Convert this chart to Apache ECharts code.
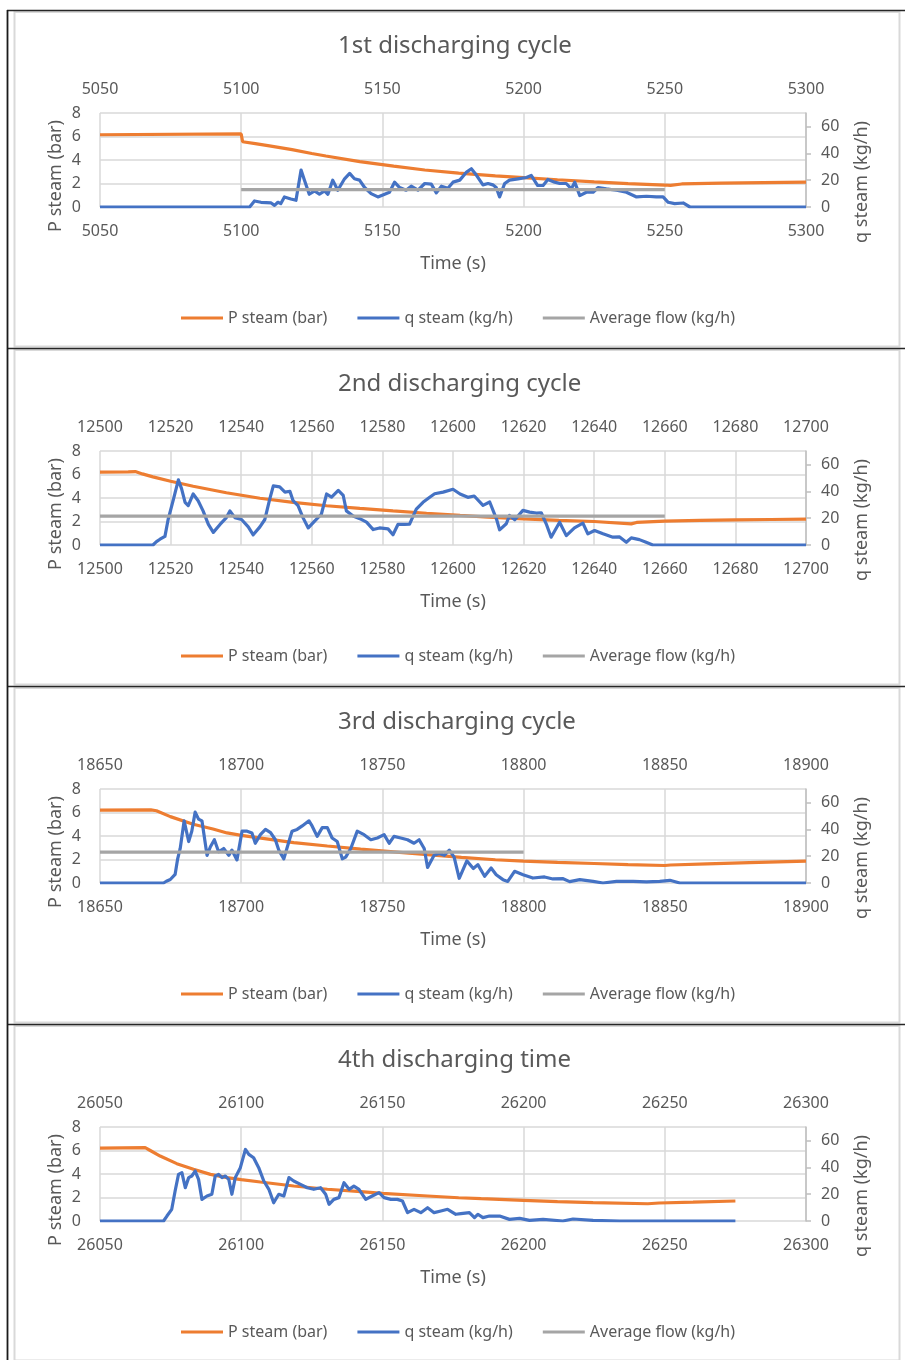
<!DOCTYPE html>
<html>
<head>
<meta charset="utf-8">
<script src="https://cdn.jsdelivr.net/npm/echarts@6/dist/echarts.min.js"></script>
<style>
html,body{margin:0;padding:0;background:#fff;}
#c{width:905px;height:1360px;}
</style>
</head>
<body>
<div id="c"></div>
<script>
// ---------- DATA ----------
const titles = ['1st discharging cycle', '2nd discharging cycle', '3rd discharging cycle', '4th discharging time'];
const xMins = [5050, 12500, 18650, 26050];
const xMaxs = [5300, 12700, 18900, 26300];
const xSteps = [50, 20, 50, 50];
const pTicks = [0, 2, 4, 6, 8];
const qTicks = [0, 20, 40, 60];
const legendNames = ['P steam (bar)', 'q steam (kg/h)', 'Average flow (kg/h)'];

// [time (s), P steam (bar)]
const p1 = [[5050,6.15],[5100,6.22],[5100.5,5.55],[5105,5.4],[5110,5.2],[5118,4.88],[5125,4.55],[5130,4.34],[5142,3.86],[5154,3.48],[5165,3.15],[5177,2.88],[5190,2.65],[5200,2.5],[5212,2.32],[5225,2.14],[5237,1.99],[5250,1.87],[5252,1.84],[5256,1.96],[5270,2.03],[5285,2.08],[5300,2.12]];
// [time (s), q steam (kg/h)]
const q1 = [[5050,0],[5103,0],[5104.7,4.5],[5107,3.5],[5110.6,3],[5111.8,1.2],[5113,3.5],[5114,2.5],[5115.3,7.5],[5117.6,6],[5119.4,5],[5121.2,27.5],[5122.4,20],[5124.1,9.5],[5126,12],[5127.7,9.5],[5129.5,12],[5130.7,9.5],[5132.4,20],[5134.2,12.5],[5136.6,21],[5138.4,25],[5140.1,21],[5141.9,20],[5143.7,14.5],[5146,10],[5148.4,7.5],[5150.8,9.5],[5152.5,11],[5154.3,18.5],[5156.1,14.5],[5158.4,12.5],[5160.2,15.5],[5162.6,12.5],[5165,17.5],[5167.3,17],[5169.1,10.5],[5170.9,15.5],[5173.2,14],[5175,18.5],[5177.4,20],[5179.8,26],[5181.5,28.5],[5183.2,24],[5185.6,16.5],[5187.4,17.5],[5189.1,16.5],[5190.3,14.5],[5191.5,7.5],[5193.3,17.5],[5195,20],[5198,21],[5201,22],[5202.7,23.5],[5205,16],[5206.9,16],[5208.6,20.5],[5211,18.5],[5212.8,17.5],[5215.1,17.5],[5216.9,13.5],[5218.1,18.5],[5219.9,8.5],[5222.2,11],[5224.6,11],[5226.4,14.5],[5229.3,13.5],[5232.9,12.5],[5236.4,11],[5240,7.5],[5243.5,8],[5247,7.5],[5249.4,7.5],[5251.2,3.5],[5253.5,2.5],[5256.5,3],[5258.9,0],[5300,0]];
const avg1 = [[5100,13],[5250,13]];

const p2 = [[12500,6.2],[12508,6.22],[12510,6.25],[12512,6.05],[12515,5.8],[12520,5.43],[12526.4,5.0],[12535.8,4.45],[12545.3,3.98],[12554.7,3.63],[12564.2,3.34],[12573.6,3.11],[12583,2.9],[12592.5,2.7],[12602,2.52],[12610,2.38],[12620,2.23],[12630,2.1],[12640,2.0],[12650.5,1.8],[12652,1.92],[12660,2.03],[12670,2.09],[12680,2.14],[12690,2.17],[12700,2.2]];
const q2 = [[12500,0],[12515,0],[12516,2.5],[12517,4.3],[12518.4,6.4],[12519.3,19],[12520.8,34],[12522.2,48.5],[12523.1,42],[12524.1,31.8],[12525,29.3],[12526.4,38],[12527.8,33],[12529.2,25.4],[12530.7,15.3],[12532.1,9.4],[12534,15.3],[12535.8,20.4],[12536.8,25.4],[12538.2,20.4],[12540.1,19],[12542,13.5],[12543.4,7.6],[12545.3,13.5],[12546.7,19],[12548.1,34.4],[12549.1,44],[12550.9,43.3],[12552.4,39.4],[12553.8,40],[12554.7,33],[12556.1,29.3],[12557.5,20.4],[12559,12.7],[12560.8,17.8],[12562.7,22.9],[12564.2,38],[12565.6,35.6],[12567.5,40.7],[12568.9,36.9],[12569.8,25.4],[12571.7,21.6],[12573.6,19.6],[12575.5,17],[12577.4,11.5],[12579.2,12.7],[12581.6,12],[12583,7.6],[12584.4,15.3],[12586.3,15.3],[12587.7,15.5],[12589.6,26.7],[12591.5,31.8],[12593.4,35.6],[12594.8,38.2],[12597.2,39.4],[12600,41.5],[12602,38],[12604.2,35.5],[12606,36.5],[12608.5,29.5],[12610.4,32],[12612.3,19.5],[12613.2,11.3],[12615.1,15.8],[12616,22],[12617.5,18.8],[12619.8,25.8],[12621.7,24.5],[12623.6,23.8],[12625,24],[12626.4,15.8],[12627.8,5.8],[12630.2,17],[12632.1,7],[12634.4,12.8],[12636.8,16.3],[12638.2,8.3],[12640.1,10.8],[12642.5,8.3],[12645.3,5.8],[12647.2,6],[12649.1,2],[12650.5,5.3],[12652.8,4],[12654.7,2],[12656.6,0],[12700,0]];
const avg2 = [[12500,21.5],[12660,21.5]];

const p3 = [[18650,6.2],[18668,6.22],[18670,6.15],[18674.9,5.65],[18683,5.0],[18690,4.6],[18695,4.26],[18700,4.05],[18707,3.82],[18718.6,3.44],[18730.5,3.15],[18742.3,2.88],[18754,2.65],[18766,2.41],[18778,2.18],[18790,1.98],[18800,1.86],[18812,1.76],[18825,1.66],[18837,1.56],[18850,1.49],[18852,1.53],[18865,1.63],[18880,1.74],[18900,1.86]];
const q3 = [[18650,0],[18672.5,0],[18673.5,1.3],[18674.9,2.6],[18676.6,6.4],[18677.5,18],[18678.4,25.7],[18679.8,46.3],[18681.4,30.9],[18682.5,38.6],[18683.7,52.8],[18684.9,47.6],[18686.1,46.3],[18687.9,20.6],[18689.1,27],[18690.5,32.2],[18692,23.2],[18693.8,25.7],[18695.6,20.6],[18696.7,24.5],[18698.5,17.2],[18700.3,38.6],[18702.1,38.6],[18703.8,37.3],[18705,29.6],[18706.8,36],[18708.6,39.9],[18710.4,37.5],[18712.1,32.2],[18713.3,24.5],[18715.1,18],[18716.9,30.9],[18718,38.6],[18719.8,39.9],[18721.6,42.5],[18724,46.3],[18725.1,42.5],[18726.9,34.7],[18728.7,41.2],[18730.5,41.2],[18732.2,33.5],[18734,30.9],[18735.8,18],[18737,19.3],[18738.8,25.7],[18741.1,38.6],[18743.5,36],[18745.9,32.2],[18748.2,33.5],[18750.6,36],[18752.4,29.6],[18754.1,34.7],[18756.5,33.5],[18758.9,32.2],[18761.2,29.6],[18763,32.2],[18764.8,25.7],[18766,11.6],[18768.3,20.6],[18770.1,21.9],[18771.9,20.6],[18773.7,24.5],[18775.4,19.3],[18777.2,3.5],[18779.9,16.5],[18782.2,10.8],[18783.8,13.7],[18786.2,5],[18788.5,11.2],[18790.3,6.2],[18792.7,2.5],[18794.4,1.2],[18796.8,8.7],[18799.8,6.2],[18803.3,3.7],[18807.4,4.5],[18810.4,3],[18814,3.2],[18816.3,1],[18819.9,2.5],[18824.6,1.2],[18828.1,0],[18832.9,1.2],[18838.8,1.2],[18843.5,0.8],[18848.2,1.2],[18851.8,2],[18855.3,0],[18900,0]];
const avg3 = [[18650,23],[18800,23]];

const p4 = [[26050,6.2],[26066,6.24],[26067.8,6.0],[26071.3,5.53],[26077.2,4.88],[26083.1,4.4],[26089.1,3.97],[26095,3.69],[26100,3.52],[26106.8,3.32],[26118.6,2.98],[26130.5,2.7],[26142.3,2.5],[26150,2.35],[26166,2.13],[26177,1.98],[26185,1.9],[26200,1.76],[26212,1.65],[26224.6,1.56],[26244,1.47],[26248,1.53],[26260,1.6],[26275,1.7]];
const q4 = [[26050,0],[26072.5,0],[26073.7,3.7],[26075.4,8.7],[26076.6,22.3],[26077.8,34.7],[26079,36],[26080.2,24.8],[26081.4,32.3],[26082.5,33.5],[26083.7,37.2],[26084.9,31],[26086.1,16.1],[26087.9,18.6],[26089.6,19.9],[26090.8,33.5],[26092,34.7],[26093.2,32.3],[26094.4,33.5],[26095.6,31],[26096.7,19.9],[26097.9,32.3],[26099.7,39.7],[26101.5,53.3],[26102.7,49.6],[26104.4,47.1],[26106.2,39.7],[26108,29.8],[26109.8,23.6],[26111.5,13.6],[26113.3,19.9],[26115.1,18.6],[26116.9,32.3],[26118.6,29.8],[26121,27.3],[26123.4,24.8],[26125.7,23.6],[26128.1,24.8],[26129.9,19.9],[26131.1,12.4],[26132.8,16.1],[26134.6,17.4],[26136.4,28.5],[26138.2,23.6],[26139.9,26],[26141.7,23.6],[26144.1,16.1],[26146.4,18.6],[26148.8,21.1],[26150.6,17.4],[26153,16.1],[26155.3,16.1],[26157.1,14.9],[26158.9,6.2],[26161.2,8.7],[26163.6,6.2],[26166,9.9],[26168.3,6.2],[26170.7,7.4],[26173.1,8.7],[26176,5],[26177.8,5.5],[26180.8,6.2],[26182.6,2.5],[26183.8,5],[26185.6,2.5],[26187.9,3.7],[26191.5,3.7],[26195,1.2],[26198.6,2],[26202.1,0.5],[26206.9,1.2],[26213.9,0],[26217.5,1.5],[26224.6,0.5],[26234,0],[26275,0]];
const avg4 = [];

const pSeries = [p1, p2, p3, p4];
const qSeries = [q1, q2, q3, q4];
const avgSeries = [avg1, avg2, avg3, avg4];

// ---------- LAYOUT / STYLE ----------
const FONT = 'Noto Sans';
const TXT = '#595959';
const GRID = '#d9d9d9';
const COLORS = ['#ED7D31', '#4472C4', '#A5A5A5'];
const PANEL_H = 338;
const plain = v => String(v);

const option = {
  animation: false,
  textStyle: { fontFamily: FONT },
  title: [], legend: [], grid: [], xAxis: [], yAxis: [], series: [], graphic: []
};

for (let k = 0; k < 4; k++) {
  const o = PANEL_H * k;
  option.title.push({
    text: titles[k], left: 338, top: 34 + o, padding: 0,
    textStyle: { fontFamily: FONT, fontSize: 24, fontWeight: 'normal', color: TXT }
  });
  option.legend.push({
    data: legendNames.map(n => n + '\u200B'.repeat(k)),
    left: 181, top: 310 + o, padding: 0, itemGap: 30,
    icon: 'rect', itemWidth: 42, itemHeight: 3,
    formatter: n => n.replace(/\u200B/g, ''),
    textStyle: { fontFamily: FONT, fontSize: 16, color: TXT },
    selectedMode: false
  });
  option.grid.push({ left: 100, right: 99, top: 113 + o, height: 94, containLabel: false });
  const axisBase = {
    type: 'value', gridIndex: k, min: xMins[k], max: xMaxs[k], interval: xSteps[k]
  };
  option.xAxis.push(Object.assign({}, axisBase, {
    position: 'bottom',
    name: 'Time (s)', nameLocation: 'middle', nameGap: 48, nameMoveOverlap: false,
    nameTextStyle: { fontFamily: FONT, fontSize: 18, color: TXT },
    axisLine: { show: false }, axisTick: { show: false },
    axisLabel: { fontFamily: FONT, fontSize: 16, color: TXT, margin: 16, formatter: plain },
    splitLine: { show: true, lineStyle: { color: GRID, width: 1.5 } }
  }));
  option.xAxis.push(Object.assign({}, axisBase, {
    position: 'top',
    axisLine: { show: false }, axisTick: { show: false },
    axisLabel: { fontFamily: FONT, fontSize: 16, color: TXT, margin: 16, formatter: plain },
    splitLine: { show: false }
  }));
  option.yAxis.push({
    type: 'value', gridIndex: k, position: 'left', min: 0, max: 8, interval: 2,
    name: 'P steam (bar)', nameLocation: 'middle', nameGap: 35, nameRotate: 90, nameMoveOverlap: false,
    nameTextStyle: { fontFamily: FONT, fontSize: 18, color: TXT, padding: [0, 32, 0, 0] },
    axisLine: { show: false }, axisTick: { show: false },
    axisLabel: { fontFamily: FONT, fontSize: 16, color: TXT, margin: 19 },
    splitLine: { show: true, lineStyle: { color: GRID, width: 1.5 } }
  });
  option.yAxis.push({
    type: 'value', gridIndex: k, position: 'right', min: 0, max: 70,
    name: 'q steam (kg/h)', nameLocation: 'middle', nameGap: 47, nameRotate: 90, nameMoveOverlap: false,
    nameTextStyle: { fontFamily: FONT, fontSize: 18, color: TXT, padding: [0, 44, 0, 0] },
    axisLine: { show: true, lineStyle: { color: '#bfbfbf', width: 1.5 } },
    axisTick: { show: true, length: 5, customValues: qTicks, lineStyle: { color: '#bfbfbf', width: 1.5 } },
    axisLabel: { fontFamily: FONT, fontSize: 16, color: TXT, margin: 15, customValues: qTicks },
    splitLine: { show: false }
  });
  const lineBase = { type: 'line', showSymbol: false, symbol: 'none', smooth: false };
  option.series.push(Object.assign({}, lineBase, {
    name: legendNames[0] + '\u200B'.repeat(k), xAxisIndex: 2 * k, yAxisIndex: 2 * k,
    data: pSeries[k], lineStyle: { color: COLORS[0], width: 3.2 }, itemStyle: { color: COLORS[0] }, z: 2
  }));
  option.series.push(Object.assign({}, lineBase, {
    name: legendNames[1] + '\u200B'.repeat(k), xAxisIndex: 2 * k + 1, yAxisIndex: 2 * k + 1,
    data: qSeries[k], lineStyle: { color: COLORS[1], width: 3.2, join: 'round' }, itemStyle: { color: COLORS[1] }, z: 3
  }));
  option.series.push(Object.assign({}, lineBase, {
    name: legendNames[2] + '\u200B'.repeat(k), xAxisIndex: 2 * k + 1, yAxisIndex: 2 * k + 1,
    data: avgSeries[k], lineStyle: { color: COLORS[2], width: 3.2 }, itemStyle: { color: COLORS[2] }, z: 4
  }));
  // chart-area border (light) for each panel
  option.graphic.push({
    type: 'rect', silent: true, z: -10,
    shape: { x: 14.5, y: 12 + o, width: 885, height: 334.5 },
    style: { fill: null, stroke: '#d9d9d9', lineWidth: 2 }
  });
  // dark separator line at top of each panel
  option.graphic.push({
    type: 'line', silent: true, z: -5,
    shape: { x1: 7, y1: 10.5 + o, x2: 905, y2: 10.5 + o },
    style: { stroke: '#262626', lineWidth: 1.5 }
  });
}
// dark left border
option.graphic.push({
  type: 'line', silent: true, z: -5,
  shape: { x1: 7.5, y1: 10, x2: 7.5, y2: 1360 },
  style: { stroke: '#1a1a1a', lineWidth: 1.8 }
});

const chart = echarts.init(document.getElementById('c'), null, { renderer: 'canvas' });
chart.setOption(option);
</script>
</body>
</html>
